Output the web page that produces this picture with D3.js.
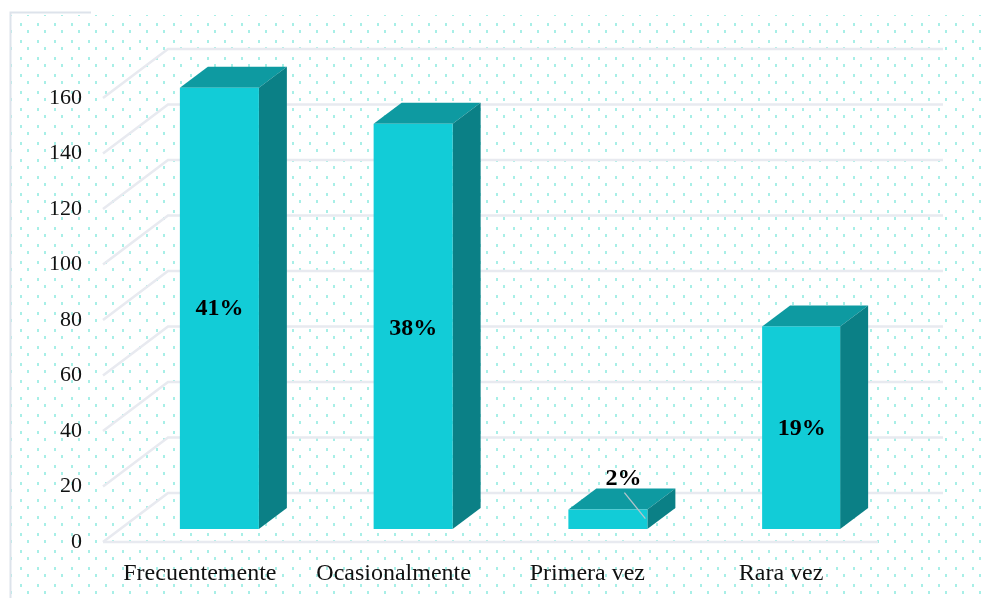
<!DOCTYPE html>
<html><head><meta charset="utf-8">
<script src="https://cdn.jsdelivr.net/npm/d3@7"></script>
<style>html,body{margin:0;padding:0;background:#fff;overflow:hidden}svg{display:block}.soft{filter:blur(.45px)}</style>
</head><body><div id="c"></div>
<script>
const categories = ["Frecuentemente","Ocasionalmente","Primera vez","Rara vez"];
const values = [159,146,7,73];
const percents = ["41%","38%","2%","19%"];
const ticks = [0,20,40,60,80,100,120,140,160];

const W=982,H=598;
const svg=d3.select("#c").append("svg").attr("width",W).attr("height",H);
const defs=svg.append("defs");
const p=defs.append("pattern").attr("id","dots").attr("patternUnits","userSpaceOnUse")
  .attr("width",17).attr("height",17).attr("x",10).attr("y",13);
p.append("rect").attr("x",0).attr("y",0).attr("width",2).attr("height",3).attr("fill","#a8efe7");
p.append("rect").attr("x",10).attr("y",10).attr("width",2).attr("height",3).attr("fill","#a8efe7");

svg.append("rect").attr("width",W).attr("height",H).attr("fill","#fff");
svg.append("rect").attr("x",11).attr("y",15).attr("width",W-11).attr("height",H-15).attr("fill","url(#dots)");
const soft=svg.append("g").attr("class","soft");
soft.append("path").attr("d","M10.5 598V12.5H91").attr("fill","none").attr("stroke","#dde3eb").attr("stroke-width",2);

const x=d3.scaleBand().domain(categories).range([103,878]);
const y=d3.scaleLinear().domain([0,160]).range([542,98]);
const dx=65,dy=-49;
const grid="#e8eaf0";
const g=soft.append("g").attr("fill","none").attr("stroke",grid).attr("stroke-width",2.6);
g.selectAll("path.g").data(ticks).join("path").attr("class","g")
  .attr("d",d=>`M103 ${y(d)}L${103+dx} ${y(d)+dy}H${878+dx}`);
g.append("path").attr("d",`M103 542H878`);

const barW=79,ox=-20,off=x.bandwidth()/2+ox,bdx=28,bdy=-21,floorUp=13;
const bar=soft.selectAll("g.b").data(categories).join("g").attr("class","b");
const h=i=>y(0)-y(values[i]);
bar.each(function(c,i){
  const G=d3.select(this),l=x(c)+off+(i===2?1:0)+(i===3?1:0),b=y(0)-floorUp,t=b-h(i),r=l+barW-(i===3?1:0);
  G.append("path").attr("d",`M${l} ${t}L${l+bdx} ${t+bdy}H${r+bdx}L${r} ${t}Z`).attr("fill","#0e9aa1");
  G.append("path").attr("d",`M${r} ${t}L${r+bdx} ${t+bdy}V${b+bdy}L${r} ${b}Z`).attr("fill","#0b8086");
  G.append("rect").attr("x",l).attr("y",t).attr("width",r-l).attr("height",b-t).attr("fill","#12ccd7");
  if(i===2){
    G.append("path").attr("d",`M${l+56} ${t-17}L${l+77} ${t+9}`).attr("stroke","#b5c3ca").attr("stroke-width",1.3).attr("fill","none");
  }
  G.append("text").attr("x",l+(i===2?55:39.5)).attr("y",i===2?t-33:(t+b)/2+(i===0?-2:i===3?-1:0))
    .attr("dy","0.34em").attr("text-anchor","middle")
    .attr("font-family","'Liberation Serif'").attr("font-weight","bold").attr("font-size",24).attr("fill","#000")
    .text(percents[i]);
});

soft.append("g").selectAll("text").data(ticks).join("text")
  .attr("x",82).attr("y",d=>y(d)-1).attr("dy","0.3em").attr("text-anchor","end")
  .attr("font-family","'Liberation Serif'").attr("font-size",22).attr("fill","#111").text(d=>d);

soft.append("g").selectAll("text").data(categories).join("text")
  .attr("x",d=>x(d)+x.bandwidth()/2).attr("y",580).attr("text-anchor","middle")
  .attr("font-family","'Liberation Serif'").attr("font-size",24).attr("fill","#111").text(d=>d);
</script></body></html>
